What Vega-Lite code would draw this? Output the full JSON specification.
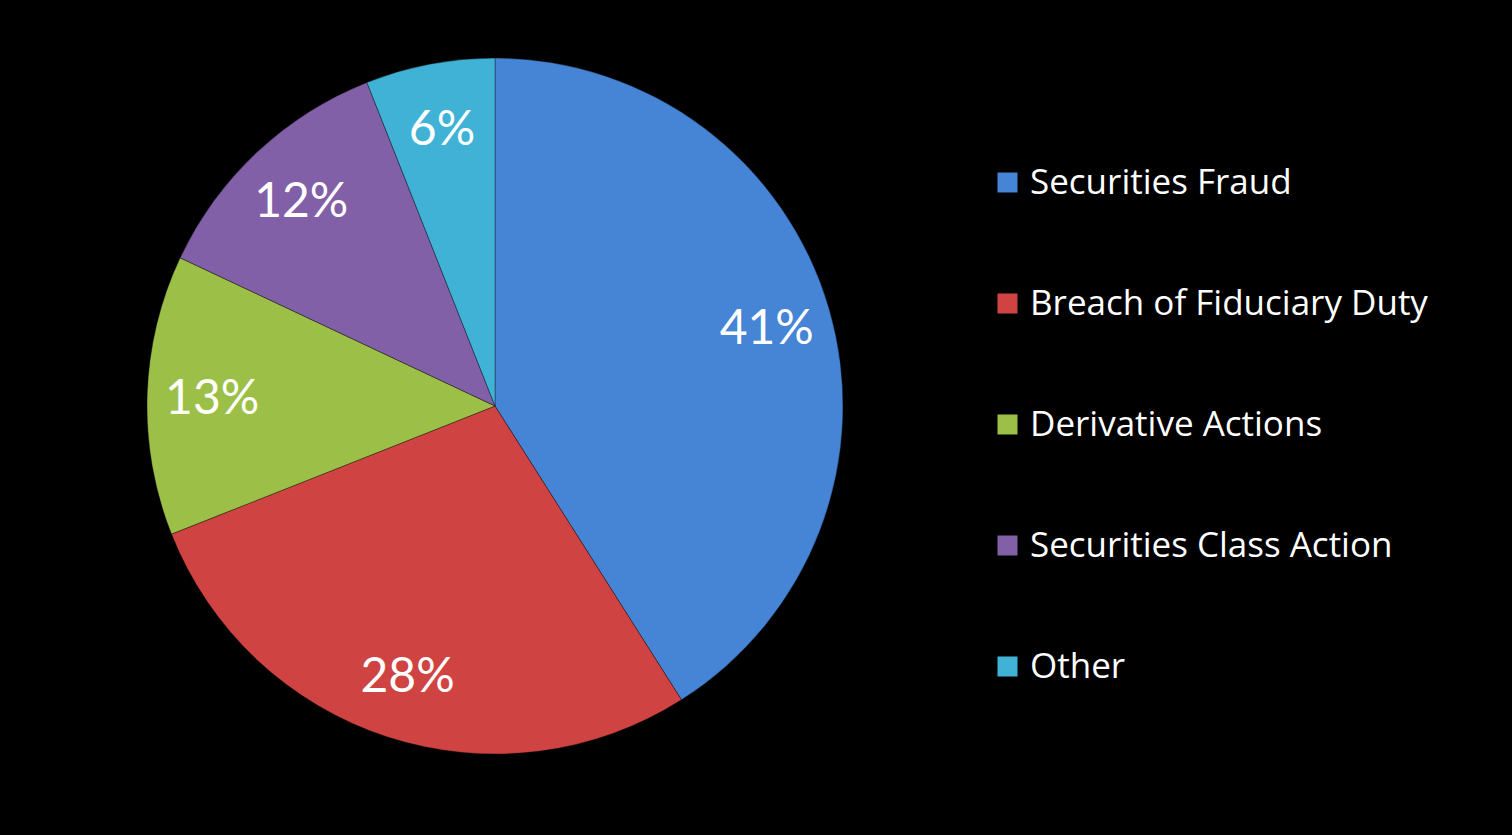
{
  "$schema": "https://vega.github.io/schema/vega-lite/v6.json",
  "width": 700,
  "height": 700,
  "autosize": {"type": "none"},
  "padding": {"left": 145, "top": 56, "right": 667, "bottom": 79},
  "background": "black",
  "view": {"stroke": null},
  "data": {
    "values": [
      {"category": "Securities Fraud", "share": 0.41, "order": 1},
      {"category": "Breach of Fiduciary Duty", "share": 0.28, "order": 2},
      {"category": "Derivative Actions", "share": 0.13, "order": 3},
      {"category": "Securities Class Action", "share": 0.12, "order": 4},
      {"category": "Other", "share": 0.06, "order": 5}
    ]
  },
  "encoding": {
    "theta": {"field": "share", "type": "quantitative", "stack": true},
    "order": {"field": "order", "type": "quantitative"}
  },
  "layer": [
    {
      "mark": {"type": "arc", "outerRadius": 348, "stroke": "#000000", "strokeOpacity": 0.35, "strokeWidth": 1},
      "encoding": {
        "color": {
          "field": "category",
          "type": "nominal",
          "scale": {
            "domain": ["Securities Fraud", "Breach of Fiduciary Duty", "Derivative Actions", "Securities Class Action", "Other"],
            "range": ["#4684d6", "#cf4442", "#9cbf48", "#8260a8", "#40b2d6"]
          },
          "legend": {
            "orient": "none",
            "legendX": 845,
            "legendY": 109,
            "title": null,
            "padding": 0,
            "symbolType": "square",
            "symbolSize": 400,
            "symbolStrokeWidth": 0,
            "labelFont": "Open Sans",
            "labelFontSize": 35,
            "labelColor": "white",
            "labelOffset": 5,
            "labelLimit": 600,
            "rowPadding": 85
          }
        }
      }
    },
    {
      "mark": {"type": "text", "radius": 283, "dy": 3, "font": "Lato", "fontSize": 48, "fill": "white", "align": "center", "baseline": "middle"},
      "encoding": {
        "text": {"field": "share", "type": "quantitative", "format": ".0%"}
      }
    }
  ]
}
